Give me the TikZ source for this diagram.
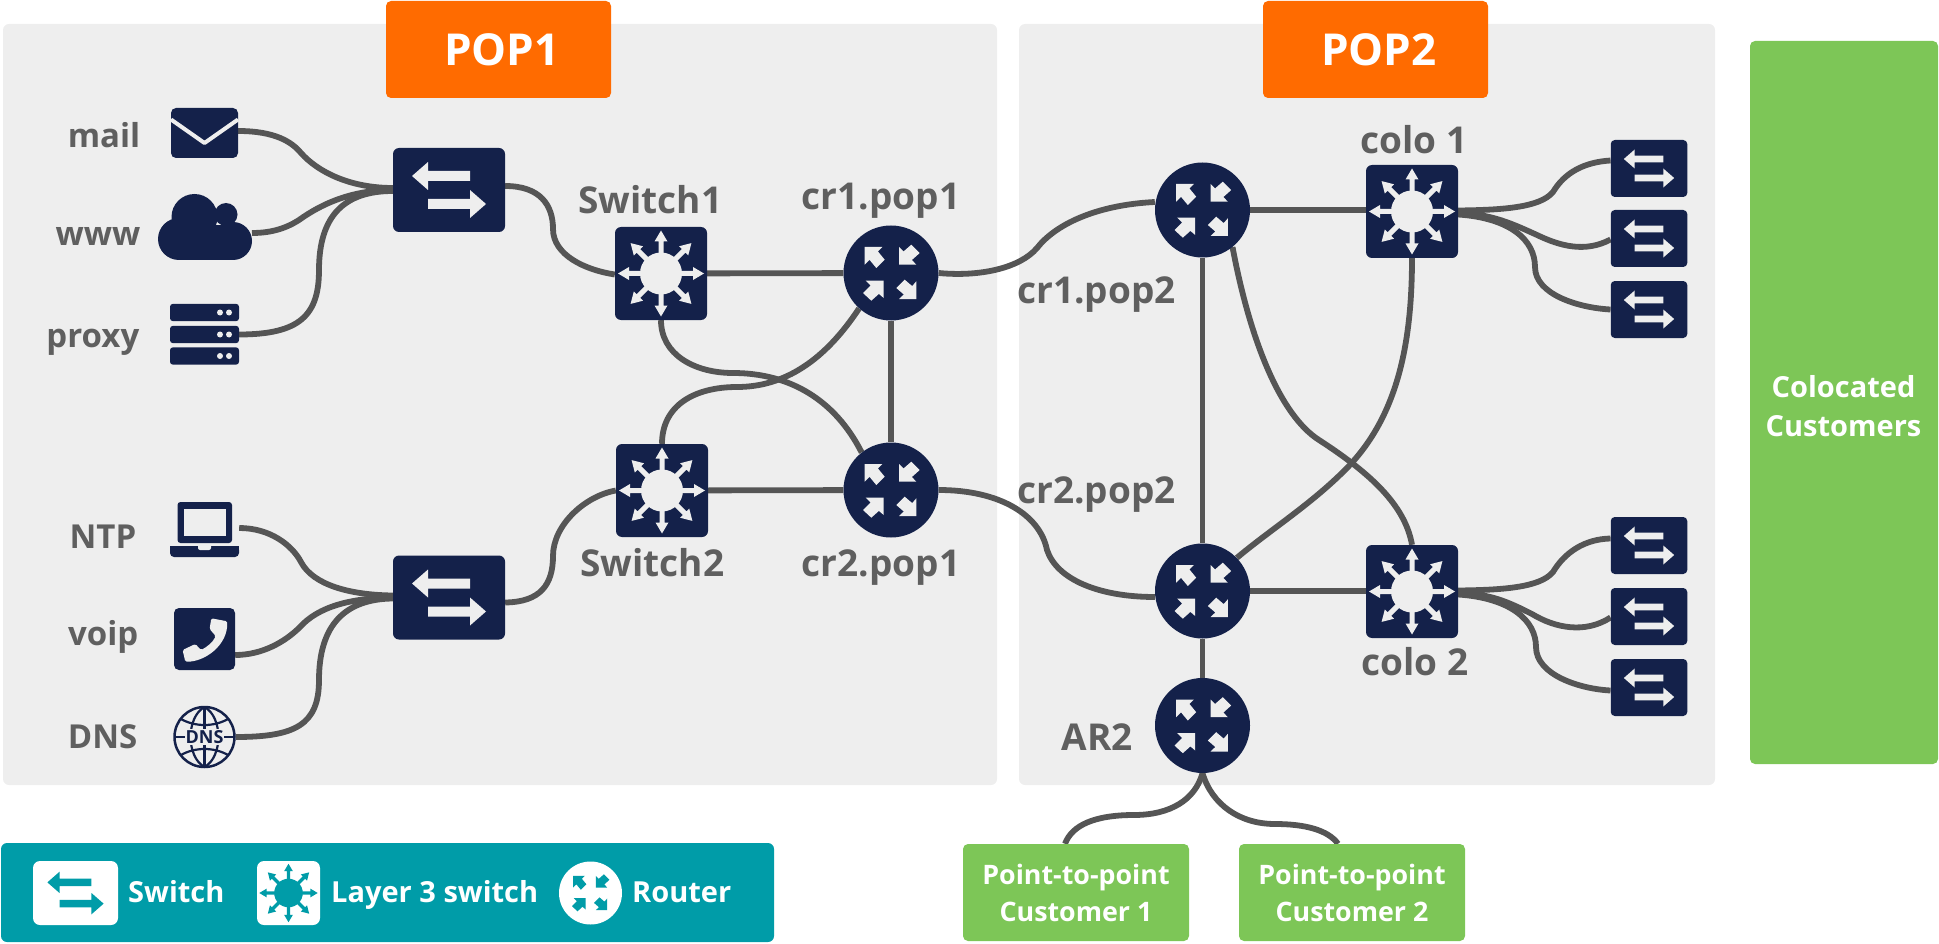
\documentclass[tikz,border=0pt]{standalone}
\usepackage{fontspec}
\setmainfont{Open Sans}
\usetikzlibrary{calc}
\definecolor{navy}{HTML}{14214A}
\definecolor{panelc}{HTML}{EEEEEE}
\definecolor{orangec}{HTML}{FF6B00}
\definecolor{greenc}{HTML}{7DC657}
\definecolor{tealc}{HTML}{009CA8}
\definecolor{textg}{HTML}{5F5F5F}
\definecolor{lineg}{HTML}{555555}
\pgfdeclarelayer{bg}
\pgfsetlayers{bg,main}
\tikzset{
  panel/.style={rectangle,rounded corners=6pt,fill=panelc,inner sep=0pt},
  orangebox/.style={rectangle,rounded corners=5pt,fill=orangec,inner sep=0pt,text=white,font=\fontsize{44}{50}\selectfont\bfseries,minimum width=225pt,minimum height=97pt},
  greenbox/.style={rectangle,rounded corners=5pt,fill=greenc,inner sep=0pt,text=white,align=center,font=\fontsize{26.8}{37}\selectfont\bfseries},
  lab/.style={inner sep=0pt,text=textg,font=\fontsize{37}{40}\selectfont\bfseries,anchor=base},
  leftlab/.style={inner sep=0pt,text=textg,font=\fontsize{33}{36}\selectfont\bfseries,anchor=base east},
  leglab/.style={inner sep=0pt,text=white,font=\fontsize{29}{32}\selectfont\bfseries,anchor=base west},
  swbox/.style={rectangle,rounded corners=6pt,fill=navy,inner sep=0pt,minimum width=112pt,minimum height=84pt},
  smallsw/.style={rectangle,rounded corners=4pt,fill=navy,inner sep=0pt,minimum width=76.5pt,minimum height=57pt},
  lthree/.style={rectangle,rounded corners=6pt,fill=navy,inner sep=0pt,minimum width=92pt,minimum height=93pt},
  routerc/.style={circle,fill=navy,inner sep=0pt,minimum size=95pt},
  iconbox/.style={rectangle,inner sep=0pt},
  link/.style={draw=lineg,line width=5.8pt},
}
% glyphs: node, scale, colour
\newcommand\swglyph[3]{\begin{scope}[shift={(#1.center)},scale=#2]
  \fill[#3] (-37,-14)--(-21,-28)--(-21,-19)--(21,-19)--(21,-9)--(-21,-9)--(-21,0)--cycle;
  \fill[#3] (37,14)--(21,0)--(21,9)--(-21,9)--(-21,19)--(21,19)--(21,28)--cycle;
\end{scope}}
\newcommand\lthreeglyph[4]{\begin{scope}[shift={(#1.center)},scale=#2]
  \foreach \a in {0,45,...,315}{
    \fill[#3,rotate=\a] (19,-2.5)--(32,-2.5)--(32,-6.5)--(43,0)--(32,6.5)--(32,2.5)--(19,2.5)--cycle;}
  \fill[#4] (0,0) circle (21);
\end{scope}}
\newcommand\routerglyph[3]{\begin{scope}[shift={(#1.center)},scale=#2]
  \fill[#3] (-26.3,-26)--(-8.7,-26)--(-13.1,-21.6)--(-6.3,-13.3)--(-14.7,-5)--(-21.5,-13.2)--(-26.3,-8.3)--cycle;
  \fill[#3] (8,-8.3)--(8,-26)--(12.5,-21.5)--(20.3,-28.3)--(28.7,-20)--(20.9,-13)--(25.3,-8.3)--cycle;
  \fill[#3] (-7.3,7.7)--(-7.3,25)--(-12.1,20.9)--(-19.7,27.7)--(-28,20)--(-20.5,12.5)--(-25.3,7.7)--cycle;
  \fill[#3] (25.3,26)--(8,26)--(12.8,21.5)--(5.3,15)--(13.7,6.7)--(21.2,13.1)--(25.3,8.3)--cycle;
\end{scope}}
\begin{document}
\begin{tikzpicture}[x=1pt,y=-1pt]
\useasboundingbox (0,0) rectangle (1939,944);
% orange, colocated, customers
\node[orangebox] (pop1title) at (498.5,49.5) {\hspace{7pt}POP1};
\node[orangebox] (pop2title) at (1375.5,49.5) {\hspace{7pt}POP2};
\node[rectangle,rounded corners=5pt,fill=greenc,inner sep=0pt,minimum width=188pt,minimum height=723pt] (colo) at (1844,402.5) {};
\node[inner sep=0pt,text=white,align=center,font=\fontsize{29}{38.5}\selectfont\bfseries] (colotxt) at (1843.5,406) {Colocated\\Customers};
\node[greenbox,minimum width=226pt,minimum height=97pt] (cust1) at (1076,892.5) {Point-to-point\\Customer 1};
\node[greenbox,minimum width=226pt,minimum height=97pt] (cust2) at (1352,892.5) {Point-to-point\\Customer 2};
% legend
\node[rectangle,rounded corners=6pt,fill=tealc,inner sep=0pt,minimum width=773pt,minimum height=99pt] (legend) at (387.5,892.5) {};
\node[rectangle,rounded corners=7pt,fill=white,inner sep=0pt,minimum width=85pt,minimum height=64pt] (legsw) at (75.5,893) {};
\swglyph{legsw}{0.76}{tealc}
\node[leglab] (legswt) at (128,902) {Switch};
\node[rectangle,rounded corners=7pt,fill=white,inner sep=0pt,minimum width=63pt,minimum height=64pt] (legl) at (288.5,893) {};
\lthreeglyph{legl}{0.68}{tealc}{tealc}
\node[leglab] (leglt) at (331,902) {Layer 3 switch};
\node[circle,fill=white,inner sep=0pt,minimum size=63pt] (legr) at (590.5,893) {};
\routerglyph{legr}{0.66}{tealc}
\node[leglab] (legrt) at (632,902) {Router};
% main devices
\node[swbox] (swa) at (449,190) {}; \swglyph{swa}{1}{panelc}
\node[swbox] (swb) at (449,597.5) {}; \swglyph{swb}{1}{panelc}
\node[lthree] (sw1) at (661,273.5) {}; \lthreeglyph{sw1}{1}{panelc}{panelc}
\node[lthree] (sw2) at (662,490.5) {}; \lthreeglyph{sw2}{1}{panelc}{panelc}
\node[routerc] (cr1p1) at (891,273) {}; \routerglyph{cr1p1}{1}{panelc}
\node[routerc] (cr2p1) at (891,490) {}; \routerglyph{cr2p1}{1}{panelc}
\node[routerc] (cr1p2) at (1202.5,210) {}; \routerglyph{cr1p2}{1}{panelc}
\node[routerc] (cr2p2) at (1202.5,591) {}; \routerglyph{cr2p2}{1}{panelc}
\node[routerc] (ar2) at (1202.5,725.5) {}; \routerglyph{ar2}{1}{panelc}
\node[lthree] (colo1) at (1412,211.5) {}; \lthreeglyph{colo1}{1}{panelc}{panelc}
\node[lthree] (colo2) at (1412,591.5) {}; \lthreeglyph{colo2}{1}{panelc}{panelc}
\foreach \n/\yy in {ca/168.5,cb/238.5,cc/309.5,cd/545.5,ce/616.5,cf/687.5}{
  \node[smallsw] (\n) at (1649,\yy) {}; \swglyph{\n}{0.68}{panelc}}
% icons
\node[iconbox,minimum width=67pt,minimum height=50pt,fill=navy,rounded corners=5pt] (mailic) at (204.5,133) {};
\draw[panelc,line width=4pt,line join=round] (171,119.5)--(204.5,143)--(238,119.5);
\node[iconbox,minimum width=94pt,minimum height=66pt] (wwwic) at (205,227) {};
\fill[navy] (194.5,217) circle (23);
\fill[navy] (226,214.5) circle (11.5);
\fill[navy] (179,239) circle (21);
\fill[navy] (233,241) circle (19);
\fill[navy] (179,225) rectangle (233,260);
\node[iconbox,minimum width=69pt,minimum height=61pt] (proxyic) at (204.5,334.5) {};
\foreach \yy in {312.5,334.5,356}{
  \fill[navy,rounded corners=3pt] (170,\yy-8.7) rectangle (239,\yy+8.7);
  \fill[panelc] (220,\yy) circle (3);
  \fill[panelc] (229,\yy) circle (3);}
\node[iconbox,minimum width=69pt,minimum height=55pt] (ntpic) at (204.5,529.5) {};
\fill[navy,rounded corners=3pt] (177.5,502) rectangle (232,543);
\fill[panelc] (184,508.7) rectangle (225.5,536);
\fill[navy,rounded corners=4pt] (170,546) -- (239,546) -- (239,557) -- (170,557) -- cycle;
\fill[navy] (170,546) rectangle (239,550);
\fill[panelc,rounded corners=2pt] (198,544) rectangle (211,550);
\node[iconbox,minimum width=61pt,minimum height=62pt,fill=navy,rounded corners=5pt] (voipic) at (204.5,639) {};
\fill[panelc,rounded corners=1.5pt] (211.3,618.3) -- (227.2,621.3) .. controls (228,645) and (205,662) .. (185.3,661.7) -- (182.6,650) -- (195.4,644) -- (201,650) .. controls (207,647) and (213,642) .. (215.7,636) -- (209.6,629) -- cycle;
\node[circle,inner sep=0pt,minimum size=60pt,draw=navy,line width=2.5pt] (dnsic) at (204.5,737) {};
\begin{scope}[navy,line width=2.2pt]
  \draw (204.5,707)--(204.5,767);
  \draw (204.5,707) .. controls (186,717) and (186,757) .. (204.5,767);
  \draw (204.5,707) .. controls (223,717) and (223,757) .. (204.5,767);
  \draw (181,719) .. controls (195,727) and (214,727) .. (228,719);
  \draw (181,755) .. controls (195,747) and (214,747) .. (228,755);
  \draw (175,737)--(234,737);
\end{scope}
\node[inner sep=1pt,fill=panelc,text=navy,font=\fontsize{18}{18}\selectfont\bfseries] (dnst) at (204.5,737) {DNS};
% labels
\node[leftlab] (lmail) at (140.5,148) {mail};
\node[leftlab] (lwww) at (140.5,246) {www};
\node[leftlab] (lproxy) at (139.5,347) {proxy};
\node[leftlab] (lntp) at (136.5,548) {NTP};
\node[leftlab] (lvoip) at (138.5,645) {voip};
\node[leftlab] (ldns) at (137.5,748) {DNS};
\node[lab] (lsw1) at (650.5,214) {Switch1};
\node[lab] (lcr1) at (881,210) {cr1.pop1};
\node[lab] (lsw2) at (652.5,576) {Switch2};
\node[lab] (lcr2) at (881,576) {cr2.pop1};
\node[lab] (lcr1b) at (1096.5,303) {cr1.pop2};
\node[lab] (lcr2b) at (1096.5,503) {cr2.pop2};
\node[lab] (lc1) at (1414,154) {colo 1};
\node[lab] (lc2) at (1415,675) {colo 2};
\node[lab] (lar) at (1097,750) {AR2};
\begin{pgfonlayer}{bg}
\node[panel,minimum width=994pt,minimum height=761pt] (p1) at (500,404.5) {};
\node[panel,minimum width=696pt,minimum height=761pt] (p2) at (1367,404.5) {};
% left fans
\draw[link] ([yshift=2pt]mailic.east) .. controls (275,131) and (292,142) .. (301,153) .. controls (318,172) and (350,188) .. ([yshift=2pt]swa.west);
\draw[link] (252,233) .. controls (270,233) and (285,229) .. (299,220) .. controls (320,205) and (350,190) .. (swa.west);
\draw[link] (proxyic.east) .. controls (300,334.5) and (319,315) .. (319,270) .. controls (319,215) and (345,191) .. ([yshift=-1pt]swa.west);
\draw[link] (ntpic.east |- 0,528) .. controls (270,528) and (292,545) .. (301,562) .. controls (313,585) and (350,595) .. ([yshift=2pt]swb.west);
\draw[link] (voipic.east |- 0,655) .. controls (262,655) and (285,642) .. (300,627) .. controls (318,607) and (350,598) .. (swb.west);
\draw[link] (dnsic.east) .. controls (295,737) and (319,725) .. (319,680) .. controls (319,625) and (345,599) .. ([yshift=-1pt]swb.west);
\draw[link] ([yshift=4pt]swa.east) .. controls (540,186) and (553,205) .. (553,229) .. controls (553,255) and (585,270) .. ([yshift=-1pt]sw1.west);
\draw[link] ([yshift=-5pt]swb.east) .. controls (540,602) and (553,585) .. (553,556) .. controls (553,525) and (585,496) .. (sw2.west);
% core
\draw[link] (sw1) -- (cr1p1);
\draw[link] (sw2) -- (cr2p1);
\draw[link] (cr1p1) -- (cr2p1);
\draw[link] (sw1.south) .. controls (661,355) and (695,373) .. (733,373) .. controls (790,373) and (835,400) .. (cr2p1.128);
\draw[link] (cr1p1.228) .. controls (825,360) and (785,387) .. (737,387) .. controls (695,387) and (662,405) .. (sw2.north);
\draw[link] (cr1p1.east) .. controls (980,277) and (1020,268) .. (1037,248) .. controls (1055,225) and (1095,205) .. ([yshift=8pt]cr1p2.west);
\draw[link] (cr2p1.east) .. controls (1000,490) and (1040,515) .. (1047,550) .. controls (1057,580) and (1100,597) .. ([yshift=-6pt]cr2p2.west);
\draw[link] (cr1p2) -- (cr2p2);
\draw[link] (cr2p2) -- (ar2);
\draw[link] (cr1p2) -- (colo1.west |- cr1p2);
\draw[link] (cr2p2) -- (colo2.west |- cr2p2);
\draw[link] (cr1p2.309) .. controls (1250,340) and (1280,415) .. (1319,440) .. controls (1370,473) and (1405,505) .. (colo2.north);
\draw[link] (colo1.south) .. controls (1412,350) and (1395,420) .. (1345,470) .. controls (1310,505) and (1270,530) .. (cr2p2.44);
% fans right
\draw[link] ([yshift=1pt]colo1.east) .. controls (1500,210) and (1540,208) .. (1553,192) .. controls (1565,172) and (1585,162) .. ([yshift=8pt]ca.west);
\draw[link] ([yshift=-2pt]colo1.east) .. controls (1490,213) and (1515,225) .. (1537,235) .. controls (1560,246) and (1585,253) .. ([yshift=-1pt]cb.west);
\draw[link] ([yshift=-3pt]colo1.east) .. controls (1510,218) and (1535,240) .. (1535,267) .. controls (1535,295) and (1580,308) .. (cc.west);
\draw[link] ([yshift=1pt]colo2.east) .. controls (1500,590) and (1540,588) .. (1553,572) .. controls (1565,552) and (1585,539) .. ([yshift=7pt]cd.west);
\draw[link] ([yshift=-2pt]colo2.east) .. controls (1490,593) and (1510,603) .. (1532,614) .. controls (1555,628) and (1585,634) .. ([yshift=-1pt]ce.west);
\draw[link] ([yshift=-3pt]colo2.east) .. controls (1510,598) and (1536,620) .. (1536,647) .. controls (1536,675) and (1580,689) .. ([yshift=-3pt]cf.west);
% customers
\draw[link] (ar2.south) .. controls (1195,800) and (1170,815) .. (1134,815) .. controls (1095,815) and (1072,825) .. (cust1.north -| 1065,0);
\draw[link] (ar2.south) .. controls (1212,805) and (1240,824) .. (1275,824) .. controls (1305,824) and (1328,830) .. (cust2.north -| 1338,0);
\end{pgfonlayer}
\end{tikzpicture}
\end{document}
